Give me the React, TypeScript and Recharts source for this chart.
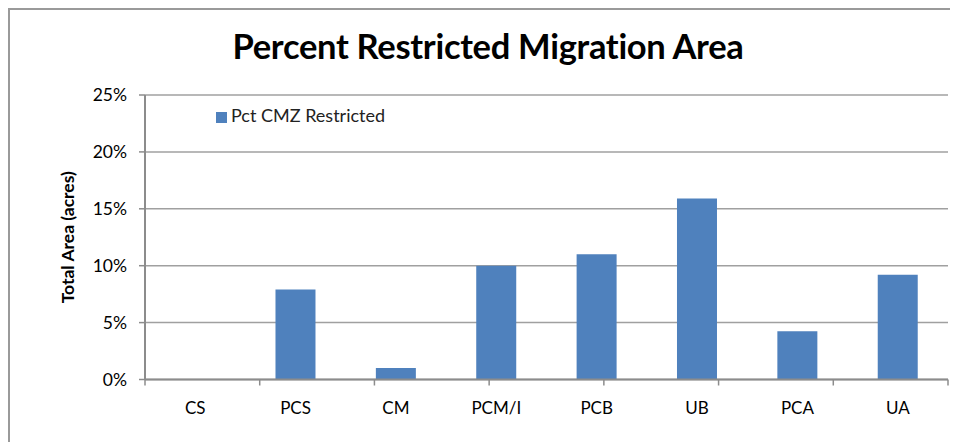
import React from "react";
import { BarChart, Bar, CartesianGrid, XAxis, YAxis, Legend } from "recharts";

const categories = ["CS", "PCS", "CM", "PCM/I", "PCB", "UB", "PCA", "UA"];
const pctRestricted = [0, 7.9, 1.0, 10.0, 11.0, 15.9, 4.25, 9.2];
const yTicks = [0, 5, 10, 15, 20, 25];
const boundaryTicks = [0, 1, 2, 3, 4, 5, 6, 7, 8];

const data = categories.map((name, i) => ({ name, pct: pctRestricted[i] }));

const FONT = "Lato, 'Open Sans', sans-serif";
const AXIS = "#8c8c8c";

const YLabel = (props: any) => {
  const vb = props.viewBox || {};
  const cx = 59;
  const cy = vb.y + vb.height / 2;
  return (
    <text
      x={cx}
      y={cy}
      transform={`rotate(-90, ${cx}, ${cy})`}
      textAnchor="middle"
      dominantBaseline="central"
      fontFamily={FONT}
      fontWeight={700}
      fontSize={17.5}
      fill="#000"
    >
      Total Area (acres)
    </text>
  );
};

export default function App() {
  return (
    <div style={{ position: "relative", width: 950, height: 434, fontFamily: FONT }}>
      <div
        style={{
          position: "absolute",
          left: 0,
          top: 0,
          width: 950,
          height: 434,
          borderTop: "2px solid #9a9a9a",
          borderLeft: "2px solid #9a9a9a",
          boxSizing: "border-box",
          pointerEvents: "none",
        }}
      />
      <div
        style={{
          position: "absolute",
          left: 0,
          width: 960,
          top: 17,
          textAlign: "center",
          fontSize: 34.5,
          fontWeight: 700,
          color: "#000",
          letterSpacing: -0.3,
        }}
      >
        Percent Restricted Migration Area
      </div>
      <BarChart
        width={950}
        height={434}
        data={data}
        margin={{ top: 65, right: 10, left: 0, bottom: 16.5 }}
        barCategoryGap="30%"
      >
        <CartesianGrid vertical={false} stroke="#a0a0a0" strokeWidth={1.5} />
        <XAxis
          xAxisId="aEdge"
          type="number"
          domain={[0, 8]}
          ticks={boundaryTicks}
          allowDataOverflow
          height={1}
          tickFormatter={() => ""}
          tickSize={6}
          tickLine={{ stroke: AXIS, strokeWidth: 1.5 }}
          stroke={AXIS}
          axisLine={{ stroke: AXIS, strokeWidth: 2 }}
        />
        <XAxis
          xAxisId="cat"
          dataKey="name"
          height={45}
          axisLine={false}
          tickLine={false}
          tickMargin={15}
          interval={0}
          tick={{ fill: "#000", fontSize: 17, fontFamily: FONT }}
        />
        <YAxis
          width={137}
          domain={[0, 25]}
          ticks={yTicks}
          tickFormatter={(v: number) => `${v}%`}
          tickSize={6}
          tickMargin={12}
          stroke={AXIS}
          axisLine={{ stroke: AXIS, strokeWidth: 2 }}
          tickLine={{ stroke: AXIS, strokeWidth: 1.5 }}
          tick={{ fill: "#000", fontSize: 17.5, fontFamily: FONT }}
          label={{ content: YLabel }}
        />
        <Legend
          verticalAlign="top"
          align="left"
          iconType="square"
          iconSize={11}
          wrapperStyle={{ position: "absolute", left: 208, top: 96, width: "auto", fontSize: 18, fontFamily: FONT }}
          formatter={(v: string) => <span style={{ color: "#222" }}>{v}</span>}
        />
        <Bar
          xAxisId="cat"
          dataKey="pct"
          name="Pct CMZ Restricted"
          fill="#4f81bd"
          isAnimationActive={false}
        />
      </BarChart>
    </div>
  );
}
